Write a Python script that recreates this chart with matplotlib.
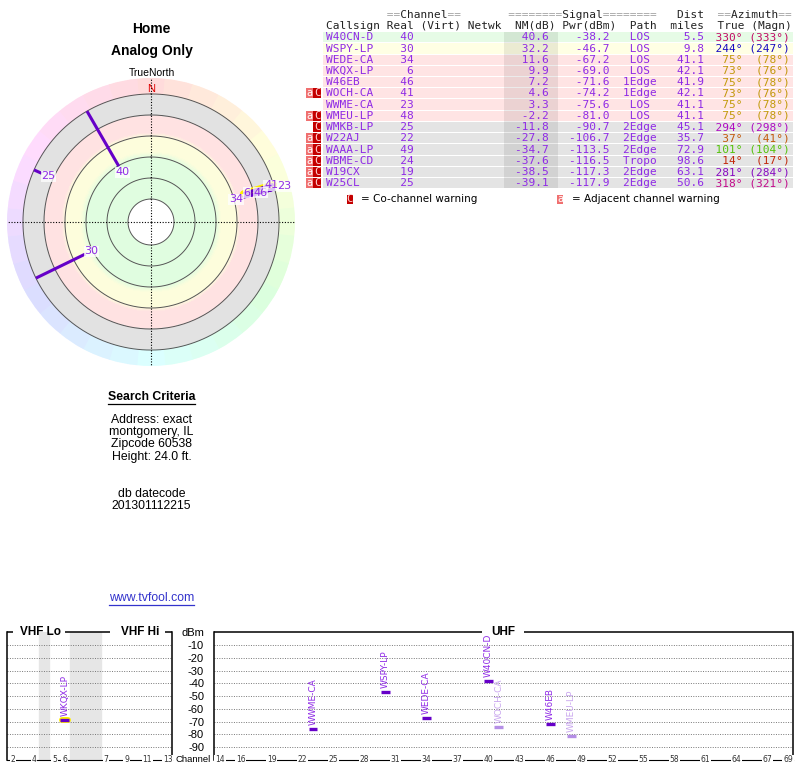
import colorsys
import numpy as np
import matplotlib
matplotlib.use('Agg')
import matplotlib.pyplot as plt
from matplotlib.patches import Rectangle
from matplotlib.colors import LinearSegmentedColormap

# station table
callsigns = ['W40CN-D', 'WSPY-LP', 'WEDE-CA', 'WKQX-LP', 'W46EB', 'WOCH-CA', 'WWME-CA',
             'WMEU-LP', 'WMKB-LP', 'W22AJ', 'WAAA-LP', 'WBME-CD', 'W19CX', 'W25CL']
channels = [40, 30, 34, 6, 46, 41, 23, 48, 25, 22, 49, 24, 19, 25]
nm_db = [40.6, 32.2, 11.6, 9.9, 7.2, 4.6, 3.3, -2.2, -11.8, -27.8, -34.7, -37.6, -38.5, -39.1]
pwr_dbm = [-38.2, -46.7, -67.2, -69.0, -71.6, -74.2, -75.6, -81.0, -90.7, -106.7,
           -113.5, -116.5, -117.3, -117.9]
paths = ['LOS', 'LOS', 'LOS', 'LOS', '1Edge', '1Edge', 'LOS', 'LOS', '2Edge', '2Edge',
         '2Edge', 'Tropo', '2Edge', '2Edge']
dist_mi = [5.5, 9.8, 41.1, 42.1, 41.9, 42.1, 41.1, 41.1, 45.1, 35.7, 72.9, 98.6, 63.1, 50.6]
az_true = [330, 244, 75, 73, 75, 73, 75, 75, 294, 37, 101, 14, 281, 318]
az_magn = [333, 247, 78, 76, 78, 76, 78, 78, 298, 41, 104, 17, 284, 321]
warnings = ['', '', '', '', '', 'aC', '', 'aC', 'C', 'aC', 'aC', 'aC', 'aC', 'aC']
highlight = ['WKQX-LP']

search_lines = ['Address: exact', 'montgomery, IL', 'Zipcode 60538', 'Height: 24.0 ft.']
datecode = '201301112215'

vhf_ticks = [2, 4, 5, 6, 7, 9, 11, 13]
uhf_ticks = [14, 16, 19, 22, 25, 28, 31, 34, 37, 40, 43, 46, 49, 52, 55, 58, 61, 64, 67, 69]
dbm_ticks = [0, -10, -20, -30, -40, -50, -60, -70, -80, -90]

# VHF axis is laid out in slots: gap after ch4, three grey slots after ch6
vhf_slot = {2: 0, 3: 1, 4: 2, 5: 4, 6: 5, 7: 9, 8: 10, 9: 11, 10: 12, 11: 13, 12: 14, 13: 15}

PURPLE = '#8f2ae6'
LINE_PURPLE = '#6600c8'
FADED = '#b58ee6'
SANS = 'Liberation Sans'
MONO = 'DejaVu Sans Mono'

W, H = 800, 768
fig = plt.figure(figsize=(W / 100, H / 100), dpi=100)


def px_axes(left, top, width, height, **kw):
    return fig.add_axes([left / W, 1 - (top + height) / H, width / W, height / H], **kw)


def az_color(az):
    hue = np.interp(az, [0, 40, 80, 105, 360], [0, 28, 50, 105, 360])
    return colorsys.hsv_to_rgb(hue / 360, 0.95, 0.76)


def row_bg(nm):
    if nm >= 35:
        return '#e6fbe6'
    if nm >= 20:
        return '#ffffe4'
    if nm >= -5:
        return '#ffe4e4'
    return '#e4e4e4'


cv = px_axes(0, 0, W, H)
cv.set_xlim(0, W)
cv.set_ylim(H, 0)
cv.axis('off')


def underline(t, color):
    bb = t.get_window_extent(renderer=fig.canvas.get_renderer())
    (x1, y1), (x2, y2) = cv.transData.inverted().transform([[bb.x0, bb.y0], [bb.x1, bb.y0]])
    cv.plot([x1, x2], [y1 + 0.5, y2 + 0.5], color=color, lw=0.9)


# ---- left column text
cv.text(151.5, 29, 'Home', family=SANS, fontsize=10, weight='bold', ha='center', va='center')
cv.text(151.5, 51.5, 'Analog Only', family=SANS, fontsize=10, weight='bold', ha='center', va='center')
cv.text(151.5, 73.5, 'TrueNorth', family=SANS, fontsize=7.5, ha='center', va='center')

t = cv.text(151.5, 397.5, 'Search Criteria', family=SANS, fontsize=8.8, weight='bold',
            ha='center', va='center')
underline(t, 'black')
for k, line in enumerate(search_lines):
    cv.text(151.5, 420 + k * 12.2, line, family=SANS, fontsize=8.8, ha='center', va='center')
cv.text(151.5, 494.3, 'db datecode', family=SANS, fontsize=8.8, ha='center', va='center')
cv.text(151.5, 506.3, datecode, family=SANS, fontsize=8.8, ha='center', va='center')
t = cv.text(151.5, 598.3, 'www.tvfool.com', family=SANS, fontsize=8.8, color='#3333cc',
            ha='center', va='center')
underline(t, '#3333cc')

# ---- station table
x0, cw = 326.0, 6.72
row_y0, row_h = 37.3, 11.23
n = len(callsigns)

hdr1 = ' ' * 9 + '==Channel==' + ' ' * 7 + '========Signal========' + ' ' * 3 + 'Dist' + '  ' + '==Azimuth=='
hdr2 = 'Callsign Real (Virt) Netwk  NM(dB) Pwr(dBm)  Path  miles  True (Magn)'
for y, line in [(15.2, hdr1), (25.8, hdr2)]:
    cv.text(x0, y, ''.join(c if c == '=' else ' ' for c in line), family=MONO, fontsize=8,
            color='#a0a0a0', va='center')
    cv.text(x0, y, ''.join(' ' if c == '=' else c for c in line), family=MONO, fontsize=8,
            color='#222222', va='center')

for i in range(n):
    y = row_y0 + i * row_h
    cv.add_patch(Rectangle((323, y - 5.2), 470, row_h - 1, fc=row_bg(nm_db[i]), ec='none', zorder=0))
    main = (f'{callsigns[i]:<8} {channels[i]:>4}{nm_db[i]:>20.1f}{pwr_dbm[i]:>9.1f}'
            f'  {paths[i]:^5}{dist_mi[i]:>7.1f}')
    azs = f'{str(az_true[i]) + "°":>6}{"(" + str(az_magn[i]) + "°)":>7}'
    cv.text(x0, y, main, family=MONO, fontsize=8, color=PURPLE, va='center', zorder=3)
    cv.text(x0 + 56 * cw, y, azs, family=MONO, fontsize=8, color=az_color(az_true[i]),
            va='center', zorder=3)
    if 'a' in warnings[i]:
        cv.add_patch(Rectangle((306, y - 5.2), 7.3, row_h - 1, fc='#f07070', ec='none'))
        cv.text(309.6, y, 'a', family=MONO, fontsize=7.5, color='white', ha='center', va='center')
    if 'C' in warnings[i]:
        cv.add_patch(Rectangle((313.3, y - 5.2), 7.4, row_h - 1, fc='#c40000', ec='none'))
        cv.text(317, y, 'C', family=MONO, fontsize=7.5, color='#ffd0d0', ha='center', va='center')

# NM column shade
cv.add_patch(Rectangle((504, row_y0 - 5.2), 53.7, n * row_h - 1, fc='black', alpha=0.08,
                       ec='none', zorder=1))

# warning legend
ly = 199.5
cv.add_patch(Rectangle((346.5, ly - 4.7), 6, 9.4, fc='#c40000', ec='none'))
cv.text(349.5, ly, 'C', family=MONO, fontsize=7.5, color='#ffd0d0', ha='center', va='center')
cv.text(361, ly, '= Co-channel warning', family='DejaVu Sans', fontsize=7.5, va='center')
cv.add_patch(Rectangle((557.3, ly - 4.7), 6, 9.4, fc='#f07070', ec='none'))
cv.text(560.3, ly, 'a', family=MONO, fontsize=7.5, color='white', ha='center', va='center')
cv.text(571.5, ly, '= Adjacent channel warning', family='DejaVu Sans', fontsize=7.5, va='center')

# ---- polar plot (radius is NM dB, inverted: strong signals near the centre)
ax = px_axes(7, 78, 288, 288, projection='polar')
ax.set_theta_zero_location('N')
ax.set_theta_direction(-1)
r_in, r_out = 101.9, -35.2
ax.set_ylim(r_in, r_out)
ax.axis('off')

band_cmap = LinearSegmentedColormap.from_list('bands', [
    (0.0, '#e2e2e2'), (0.197, '#e2e2e2'), (0.215, '#ffe2e2'), (0.37, '#ffe2e2'),
    (0.41, '#fdfddc'), (0.55, '#fdfddc'), (0.61, '#e0fde0'), (1.0, '#e0fde0')])
th_e = np.linspace(0, 2 * np.pi, 121)
r_e = np.linspace(-20, 80, 101)
C = np.tile(((r_e[:-1] + r_e[1:]) / 2)[:, None], (1, len(th_e) - 1))
ax.pcolormesh(th_e, r_e, C, cmap=band_cmap, vmin=-20, vmax=80, shading='flat', zorder=1)
ax.bar(0, r_in - 80, width=2 * np.pi, bottom=80, color='white', zorder=1.5)

seg = 32
for k in range(seg):
    col = colorsys.hsv_to_rgb(k / seg, 0.14, 1.0)
    ax.bar(2 * np.pi * k / seg, r_out + 20, width=2 * np.pi / seg, bottom=-20,
           color=col, ec=col, lw=0.5, zorder=1)

th_full = np.linspace(0, 2 * np.pi, 361)
for v in (-20, 0, 20, 40, 60, 80):
    ax.plot(th_full, np.full_like(th_full, v), color='#555555', lw=0.7, zorder=2)
for a in (0, 90, 180, 270):
    ax.plot([np.deg2rad(a)] * 2, [r_in, r_out], color='black', lw=0.8, ls=(0, (1, 1.5)), zorder=3)
ax.text(0, -24.5, 'N', color='#e00000', family=SANS, fontsize=8, ha='center', va='center', zorder=4)

shown = [i for i in range(n) if nm_db[i] > -20]
for i in shown:
    th = np.deg2rad(az_true[i])
    if callsigns[i] in highlight:
        ax.plot([th, th], [nm_db[i], -20], color='#ffee00', lw=5, solid_capstyle='round', zorder=4)
    ax.plot([th, th], [nm_db[i], -20], color=LINE_PURPLE, lw=2.2, solid_capstyle='butt', zorder=5)

# labels sit just inside the inner end, pushed outward when neighbours collide
lab_nm = {}
for i in sorted(shown, key=lambda j: -nm_db[j]):
    v = nm_db[i] + 6.5
    for j in lab_nm:
        if abs(az_true[i] - az_true[j]) < 10:
            v = min(v, lab_nm[j] - 11.9)
    lab_nm[i] = v
for i, v in lab_nm.items():
    if v < -33:
        continue
    ax.text(np.deg2rad(az_true[i]), v, str(channels[i]), color=PURPLE, family='DejaVu Sans',
            fontsize=8, ha='center', va='center', zorder=6,
            bbox=dict(fc='white', ec='none', alpha=0.75, pad=0.4))

# ---- spectrum panels
av = px_axes(7.3, 632.2, 165, 127.8)
au = px_axes(214.3, 632.2, 578.4, 127.8)
av.set_xlim(-0.58, 15.44)
au.set_xlim(13.45, 69.44)
for a in (av, au):
    a.set_ylim(-100, 0)
    a.set_facecolor('none')
    a.spines['top'].set_visible(False)
    a.spines['bottom'].set_visible(False)
    a.spines['left'].set_linewidth(1.1)
    a.spines['right'].set_linewidth(1.1)
    a.set_xticks([])
    for v in range(-90, 0, 10):
        a.axhline(v, color='#777777', lw=0.7, ls=(0, (1, 1.5)), zorder=1)
    a.axhline(-100, color='black', lw=0.8, clip_on=False, zorder=2)
av.set_yticks([])
au.set_yticks(dbm_ticks)
au.set_yticklabels(['dBm'] + [str(v) for v in dbm_ticks[1:]], family=SANS, fontsize=8)
au.tick_params(axis='y', length=0, pad=7.4)

av.axvspan(2.5, 3.5, color='#e6e6e6', zorder=0)
av.axvspan(5.5, 8.5, color='#e6e6e6', zorder=0)

# top frame with gaps for the band names
for a, segs in ((av, [(0, 0.033), (0.35, 0.622), (0.956, 1)]), (au, [(0, 0.462), (0.535, 1)])):
    for s0, s1 in segs:
        a.plot([s0, s1], [1, 1], transform=a.transAxes, color='black', lw=1.1,
               clip_on=False, solid_capstyle='butt')
av.text(0.2, 1, 'VHF Lo', transform=av.transAxes, family=SANS, fontsize=8.5, weight='bold',
        ha='center', va='center')
av.text(0.806, 1, 'VHF Hi', transform=av.transAxes, family=SANS, fontsize=8.5, weight='bold',
        ha='center', va='center')
au.text(0.4995, 1, 'UHF', transform=au.transAxes, family=SANS, fontsize=8.5, weight='bold',
        ha='center', va='center')

for ch in vhf_ticks:
    av.text(vhf_slot[ch], -100, str(ch), fontsize=5.5, color='#333333', ha='center', va='center',
            clip_on=False, zorder=5, bbox=dict(fc='white', ec='none', pad=0.6))
for ch in uhf_ticks:
    au.text(ch, -100, str(ch), fontsize=5.5, color='#333333', ha='center', va='center',
            clip_on=False, zorder=5, bbox=dict(fc='white', ec='none', pad=0.6))
cv.text(211, 759.5, 'Channel', family=SANS, fontsize=6.8, ha='right', va='center')

for i in range(n):
    if nm_db[i] <= -10:
        continue
    a = au if channels[i] >= 14 else av
    x = channels[i] if channels[i] >= 14 else vhf_slot[channels[i]]
    faded = warnings[i] != ''
    if callsigns[i] in highlight:
        a.plot([x - 0.3, x + 0.3], [pwr_dbm[i]] * 2, color='#ffee00', lw=4.3,
               solid_capstyle='round', zorder=3)
    a.plot([x - 0.43, x + 0.43], [pwr_dbm[i]] * 2, color=FADED if faded else LINE_PURPLE,
           lw=2.4, solid_capstyle='butt', zorder=4)
    a.annotate(callsigns[i], (x, pwr_dbm[i]), xytext=(0, 3), textcoords='offset points',
               rotation=90, ha='center', va='bottom', fontsize=6.5, family='DejaVu Sans',
               color='#c9a6ee' if faded else PURPLE, zorder=6, annotation_clip=False)

fig.savefig('out.png', dpi=100)
